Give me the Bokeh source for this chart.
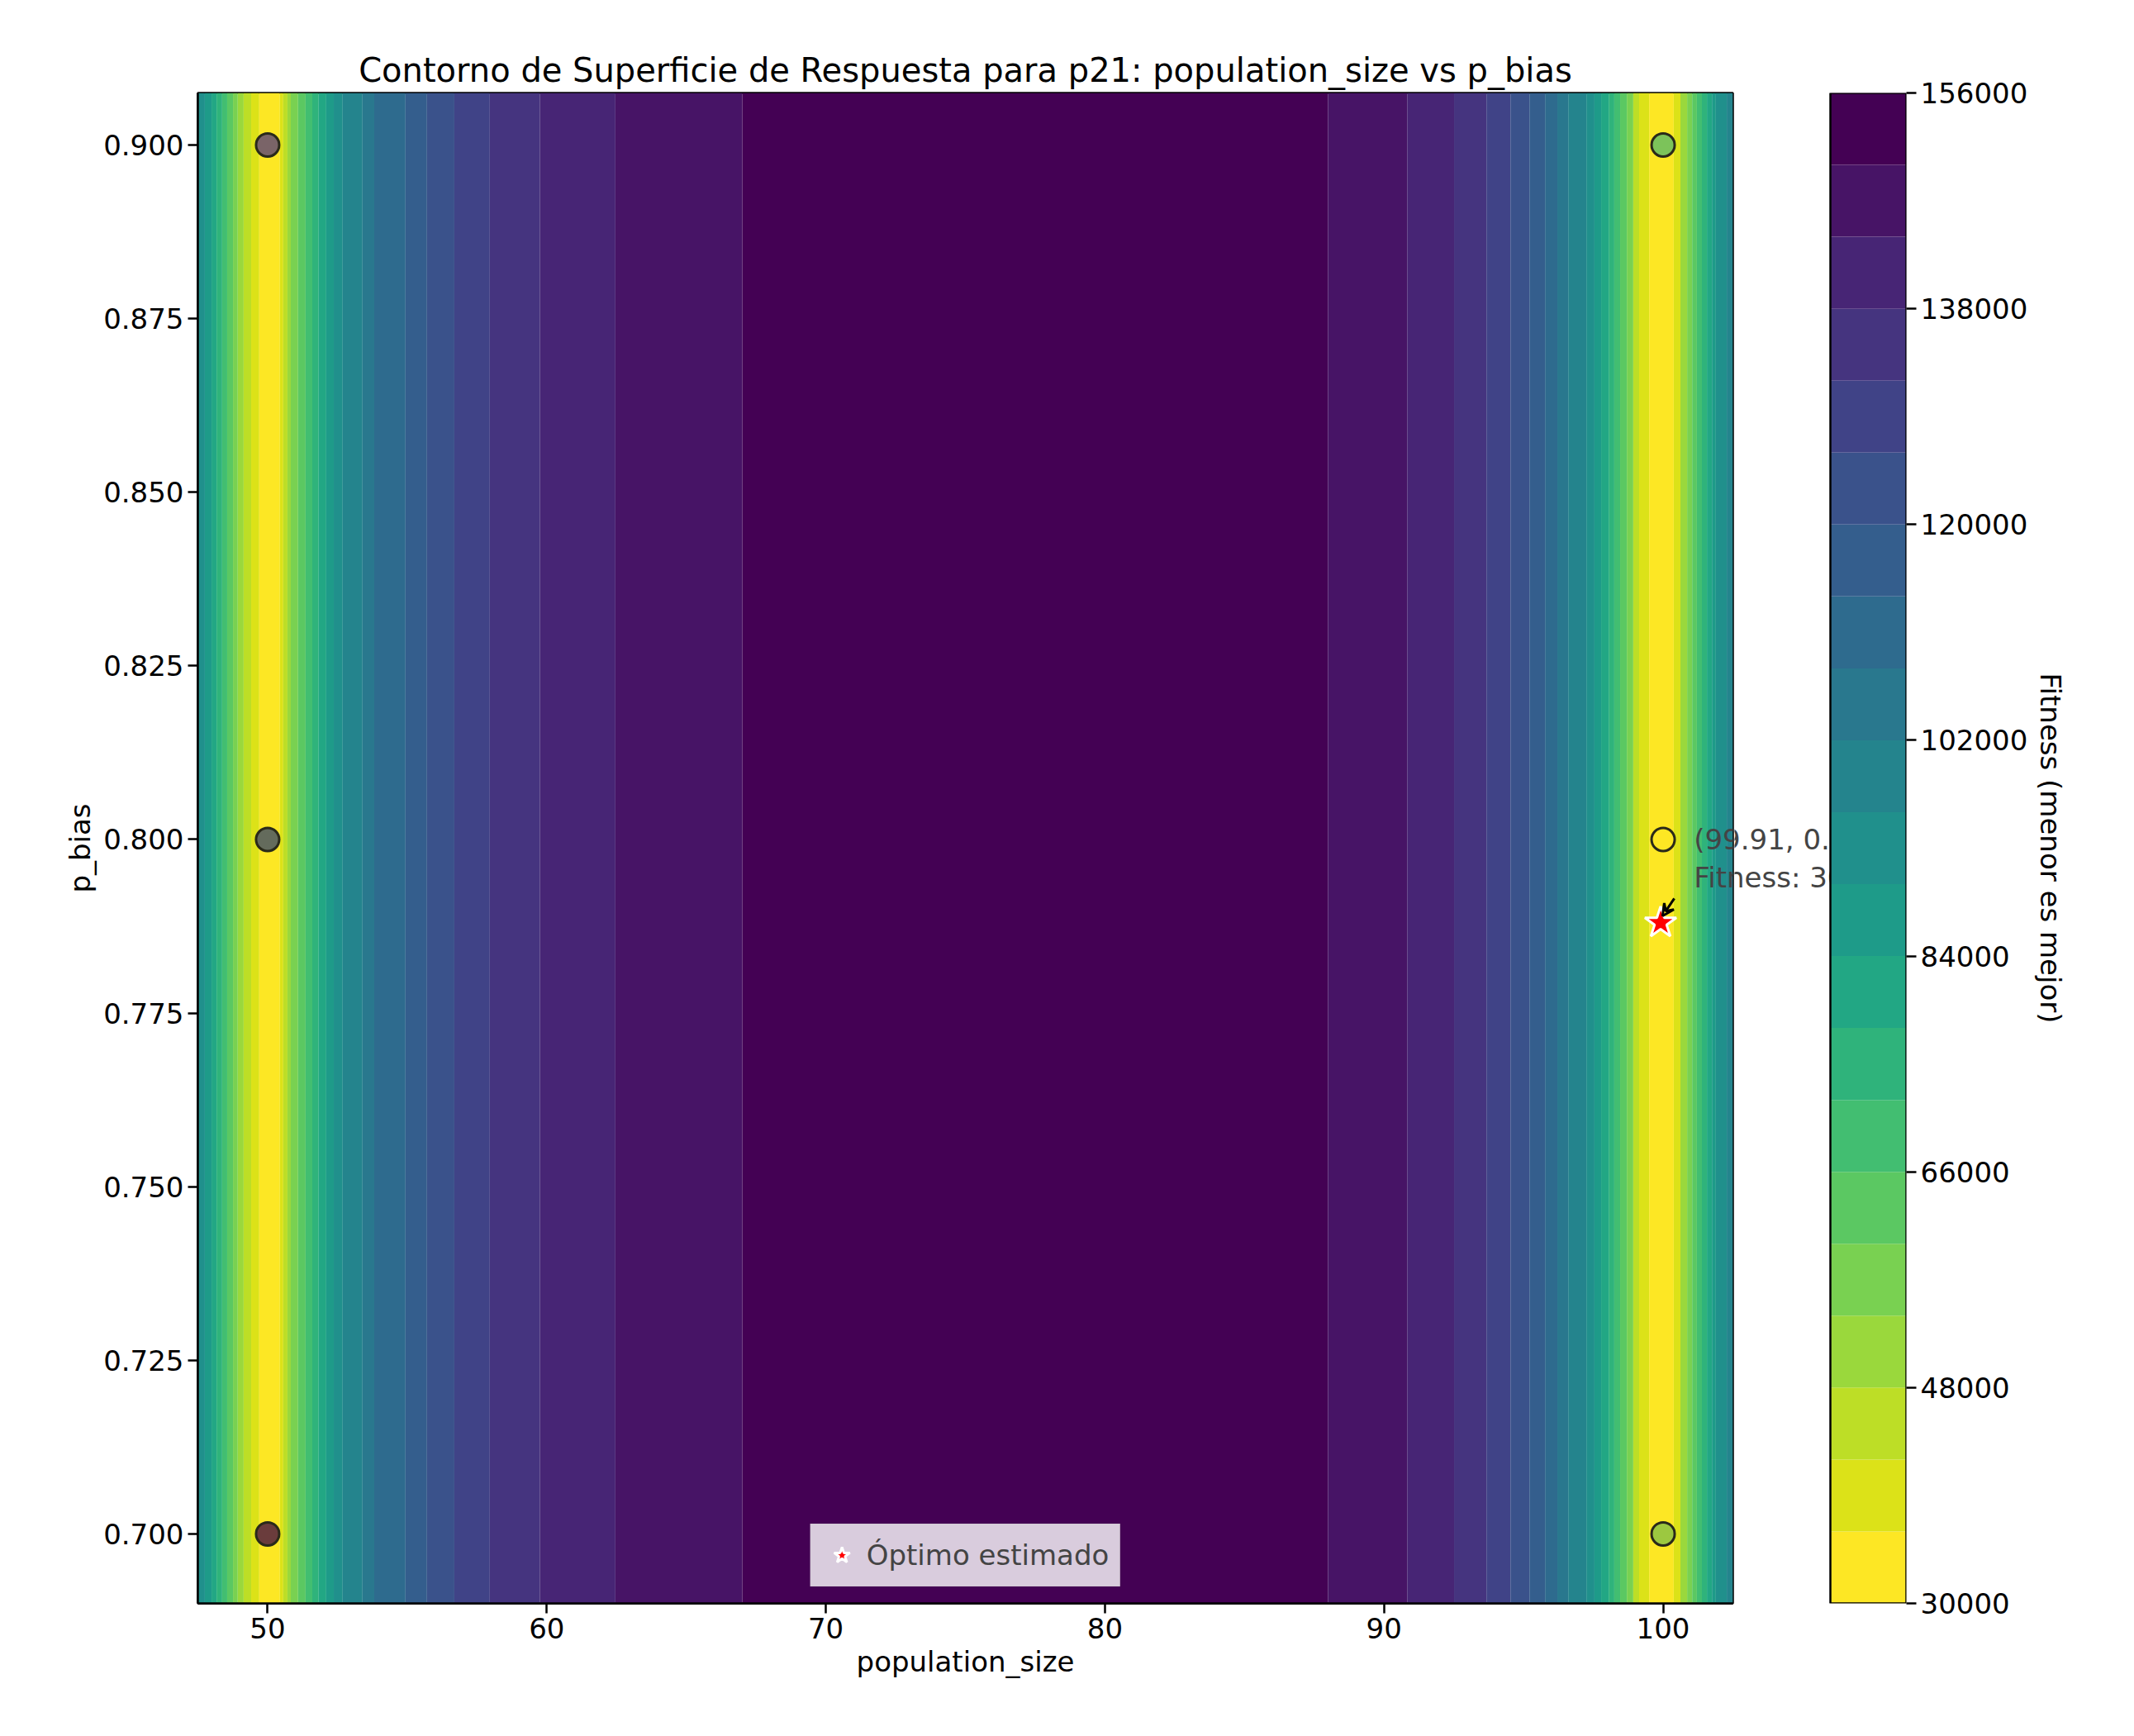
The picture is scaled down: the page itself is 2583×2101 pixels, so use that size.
from bokeh.plotting import figure
from bokeh.layouts import row
from bokeh.models import (FixedTicker, Label, Arrow, VeeHead, Range1d, BasicTickFormatter,
                          NumeralTickFormatter, Legend, LegendItem)
from bokeh.palettes import Viridis256
from bokeh.embed import file_html
from bokeh.resources import INLINE

# contour band edges along population_size (fitness does not vary with p_bias)
band_edges = [47.5, 47.75, 47.99, 48.17, 48.37, 48.55, 48.76, 48.93, 49.14, 49.41,
              49.70, 50.44, 50.56, 50.71, 50.83, 51.09, 51.36, 51.60, 51.83, 52.10,
              52.37, 52.69, 53.40, 53.82, 54.94, 55.71, 56.69, 57.96, 59.76, 62.46,
              67.01, 87.99, 90.83, 92.51, 93.67, 94.53, 95.21, 95.77, 96.21, 96.60,
              97.25, 97.54, 97.78, 98.05, 98.25, 98.46, 98.70, 98.93, 99.14, 99.50,
              100.38, 100.62, 100.86, 101.04, 101.21, 101.39, 101.57, 101.75, 101.89,
              102.28, 102.5]
# contour level index of each band (0 -> 30000-36000, 20 -> 150000-156000)
band_level = [10, 9, 8, 7, 6, 5, 4, 3, 2, 1, 0, 1, 2, 3, 4, 5, 6, 7, 8, 9,
              10, 11, 12, 13, 14, 15, 16, 17, 18, 19, 20, 19, 18, 17, 16, 15, 14, 13,
              12, 11, 10, 9, 8, 7, 6, 5, 4, 2, 1, 0, 1, 3, 4, 5, 6, 7, 8, 9, 10, 11]

levels = list(range(30000, 156001, 6000))
cbar_ticks = list(range(30000, 156001, 18000))

pts_x = [50, 50, 50, 100, 100, 100]
pts_y = [0.9, 0.8, 0.7, 0.9, 0.8, 0.7]
pts_color = ["#7a6468", "#646b5c", "#6a3c3c", "#7cc35a", "#e8e020", "#9cc840"]
pts_fill_alpha = [1, 1, 1, 1, 0, 1]

opt_x, opt_y = 99.91, 0.788
opt_fitness = 30403.81

n = len(levels) - 1
palette = [Viridis256[int(round((n - 1 - i) / (n - 1) * 255))] for i in range(n)]

FONT = "DejaVu Sans"
FS = "34px"
H = 2085
TOP, BOTTOM = 112, 145
LEFT, FRAME_R = 239, 2097
X0, X1 = 47.5, 102.5
Y0, Y1 = 0.69, 0.9075
MAIN_W = FRAME_R + 2

p = figure(width=MAIN_W, height=H, output_backend="svg", toolbar_location=None,
           title="Contorno de Superficie de Respuesta para p21: population_size vs p_bias",
           x_range=Range1d(X0, X1), y_range=Range1d(Y0, Y1),
           x_axis_label="population_size", y_axis_label="p_bias",
           min_border_left=LEFT, min_border_right=2, min_border_top=TOP,
           min_border_bottom=BOTTOM)

p.quad(left=band_edges[:-1], right=band_edges[1:], bottom=Y0, top=Y1,
       fill_color=[palette[i] for i in band_level], line_color=None)

p.scatter(pts_x, pts_y, size=28, fill_color=pts_color, fill_alpha=pts_fill_alpha,
          line_color="#2a2a1a", line_width=3)

p.add_layout(Arrow(end=VeeHead(size=14, line_color="black", fill_color=None, line_width=3),
                   x_start=100.4, y_start=0.7915, x_end=99.98, y_end=0.789,
                   line_width=3, line_color="black"))
star = p.scatter([opt_x], [opt_y], marker="star", size=40, fill_color="red",
                 line_color="white", line_width=3)

txt1 = "(%.2f, %.2f)" % (opt_x, opt_y)
txt2 = "Fitness: %.2f" % opt_fitness
lab_x, lab_y1, lab_y2 = 101.1, 0.8, 0.7945
for t, yy in ((txt1, lab_y1), (txt2, lab_y2)):
    p.add_layout(Label(x=lab_x, y=yy, text=t, text_font=FONT, text_font_size=FS,
                       text_baseline="middle"))

legend = Legend(items=[LegendItem(label="Óptimo estimado", renderers=[star])],
                location="bottom_center", label_text_font=FONT,
                label_text_font_size=FS, background_fill_color="white",
                background_fill_alpha=0.8, border_line_color="#cccccc",
                glyph_width=50, glyph_height=50, padding=12, margin=20)
p.add_layout(legend)

p.title.text_font = FONT
p.title.text_font_size = "40px"
p.title.text_font_style = "normal"
p.title.text_color = "black"
p.title.align = "center"
p.grid.visible = False
p.outline_line_color = "black"
p.outline_line_width = 2.5
p.xaxis.ticker = FixedTicker(ticks=[50, 60, 70, 80, 90, 100])
p.yaxis.ticker = FixedTicker(ticks=[0.7 + 0.025 * i for i in range(9)])
p.yaxis.formatter = NumeralTickFormatter(format="0.000")

# colour bar as its own narrow figure
frame_px = FRAME_R - LEFT
CB_W = 2567 - MAIN_W
BAR_L, BAR_R = 2215 - MAIN_W, 2307 - MAIN_W
c = figure(width=CB_W, height=H, output_backend="svg", toolbar_location=None,
           x_range=Range1d(0, BAR_R), y_range=Range1d(levels[0], levels[-1]),
           y_axis_location="right", y_axis_label="Fitness (menor es mejor)",
           min_border_left=0, min_border_right=CB_W - BAR_R, min_border_top=TOP,
           min_border_bottom=BOTTOM)
c.quad(left=BAR_L, right=BAR_R, bottom=levels[:-1], top=levels[1:],
       fill_color=palette, line_color=None)
c.quad(left=[BAR_L], right=[BAR_R], bottom=[levels[0]], top=[levels[-1]],
       fill_color=None, line_color="black", line_width=2.5)
c.xaxis.visible = False
c.grid.visible = False
c.outline_line_color = None
c.yaxis.ticker = FixedTicker(ticks=cbar_ticks)
c.yaxis.formatter = BasicTickFormatter(use_scientific=False)
c.yaxis.axis_line_color = None
# continuation of the annotation text past the main frame
lab_px = (lab_x - X0) / (X1 - X0) * frame_px - (MAIN_W - LEFT)
for t, yy in ((txt1, lab_y1), (txt2, lab_y2)):
    fy = levels[0] + (yy - Y0) / (Y1 - Y0) * (levels[-1] - levels[0])
    c.add_layout(Label(x=lab_px, y=fy, text=t, text_font=FONT, text_font_size=FS,
                       text_baseline="middle", level="underlay"))

for ax in (p.xaxis, p.yaxis, c.yaxis):
    ax.axis_label_text_font = FONT
    ax.axis_label_text_font_size = FS
    ax.axis_label_text_font_style = "normal"
    ax.axis_label_text_color = "black"
    ax.major_label_text_font = FONT
    ax.major_label_text_font_size = FS
    ax.major_label_text_color = "black"
    ax.major_tick_out = 12
    ax.major_tick_in = 0
    ax.major_tick_line_width = 2.5
    ax.axis_line_width = 2.5
    ax.minor_tick_line_color = None

layout = row(p, c, spacing=0)
open("out.html", "w").write(file_html(layout, INLINE))
